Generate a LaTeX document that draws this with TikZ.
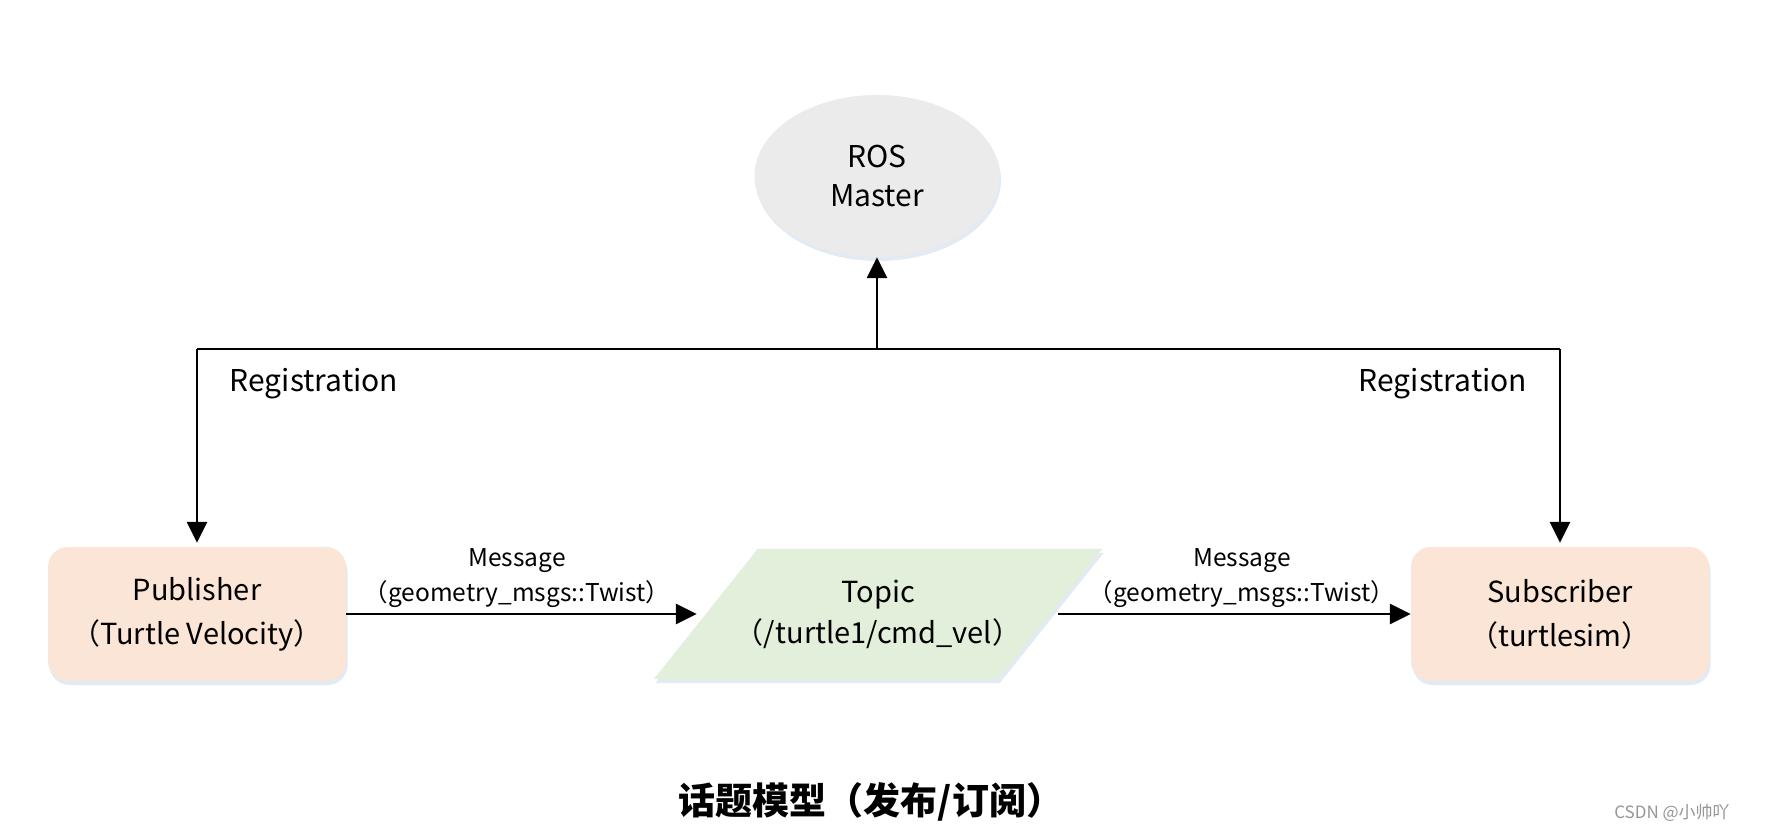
\documentclass[tikz,border=0pt]{standalone}
\usepackage{fontspec}
\newfontfamily\cjk{Noto Sans CJK SC}
\usetikzlibrary{arrows.meta,shapes.geometric,shadows}
\definecolor{peach}{RGB}{251,229,214}
\definecolor{mint}{RGB}{226,239,218}
\definecolor{rosgray}{RGB}{235,235,235}
\definecolor{glow}{RGB}{214,226,240}
\definecolor{wm}{RGB}{150,150,150}
\tikzset{
  softshadow/.style={drop shadow={shadow xshift=1.5pt,shadow yshift=-4pt,fill=glow,opacity=0.7}},
  boxstyle/.style={rectangle,rounded corners=20pt,fill=peach,minimum width=298pt,minimum height=134pt,
    inner sep=0pt,align=center,font=\fontsize{29}{44}\selectfont\cjk,softshadow},
  rosstyle/.style={ellipse,fill=rosgray,minimum width=245pt,minimum height=162pt,inner sep=0pt,
    align=center,font=\fontsize{30}{39}\selectfont\cjk,softshadow},
  topicstyle/.style={rectangle,minimum width=344pt,minimum height=130pt,inner sep=0pt,align=center,
    font=\fontsize{29}{41}\selectfont\cjk},
  topicfill/.style={fill=mint,softshadow},
  wire/.style={line width=2.9pt,black},
  arr/.style={wire,-{Triangle[length=21pt,width=20pt]}},
  lbl/.style={font=\fontsize{30}{36}\selectfont\cjk},
  msg/.style={align=center,font=\fontsize{24.5}{35}\selectfont\cjk},
}
\begin{document}
\begin{tikzpicture}[x=1pt,y=-1pt]
\useasboundingbox[fill=white] (0,0) rectangle (1766,832);
\node[rosstyle] (ros) at (877,176) {ROS\\Master};
\node[boxstyle] (pub) at (197,614) {Publisher\\（Turtle Velocity）};
\node[boxstyle] (sub) at (1560,614) {Subscriber\\（turtlesim）};
\node[topicstyle] (topic) at (878,614) {};
\fill[topicfill] ([xshift=52pt]topic.north west) -- ([xshift=52pt]topic.north east)
  -- ([xshift=-52pt]topic.south east) -- ([xshift=-52pt]topic.south west) -- cycle;
\node[topicstyle] (topictext) at (topic.center) {Topic\\（/turtle1/cmd\_vel）};
\coordinate (jl) at (197,349);
\coordinate (jr) at (1560,349);
\coordinate (jm) at (877,349);
\draw[wire] (jl) -- (jr);
\draw[arr] (jm) -- (ros);
\draw[arr,shorten >=4pt] (jl) -- (pub);
\draw[arr,shorten >=4pt] (jr) -- (sub);
\draw[arr,shorten >=9pt] (pub) -- (topic);
\draw[arr,shorten <=8pt] (topic) -- (sub);
\node[lbl] (regl) at (314,384) {Registration};
\node[lbl] (regr) at (1443,384) {Registration};
\node[msg] (msgl) at (517,578) {Message\\（geometry\_msgs::Twist）};
\node[msg] (msgr) at (1242,578) {Message\\（geometry\_msgs::Twist）};
\node[font=\fontsize{37}{42}\selectfont\cjk\bfseries] (title) at (871,802) {话题模型（发布/订阅）};
\node[font=\fontsize{17}{20}\selectfont\cjk,text=wm] (wmark) at (1672,813) {CSDN @小帅吖};
\end{tikzpicture}
\end{document}
